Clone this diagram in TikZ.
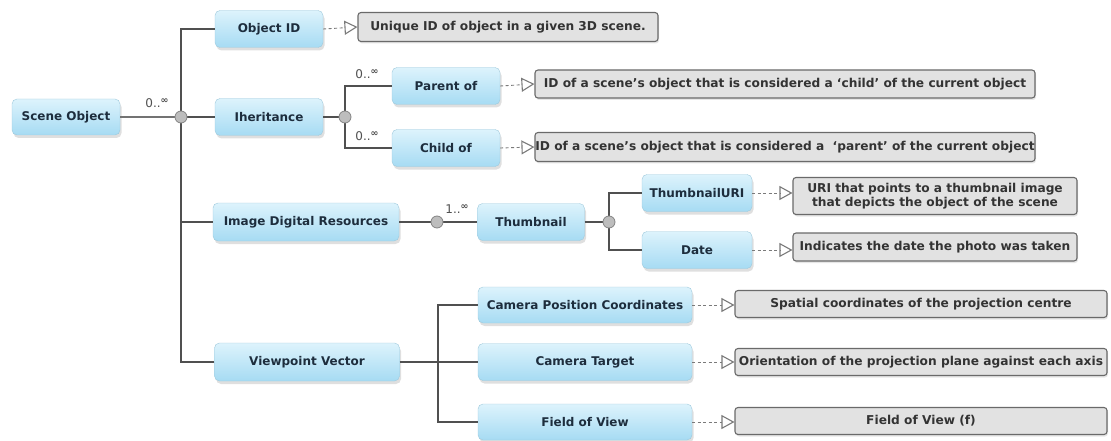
\documentclass[tikz,border=0pt]{standalone}
\usepackage{fontspec}
\setmainfont{DejaVu Sans}
\usetikzlibrary{arrows.meta,shadows,calc}
\definecolor{boxtop}{HTML}{DDF3FC}
\definecolor{boxbot}{HTML}{A6DBF3}
\definecolor{boxtext}{HTML}{1D2D3D}
\definecolor{notefill}{HTML}{E2E2E2}
\definecolor{noteline}{HTML}{6A6A6A}
\definecolor{treeline}{HTML}{505050}
\definecolor{dashline}{HTML}{7A7A7A}
\definecolor{joint}{HTML}{BDBDBD}
\tikzset{
  item/.style={rounded corners=5pt, top color=boxtop, bottom color=boxbot,
    draw=boxbot!80!gray, line width=0.4pt, text=boxtext,
    font=\fontsize{12}{13}\selectfont\bfseries, inner sep=0pt,
    drop shadow={shadow xshift=1.5pt, shadow yshift=-3pt, opacity=0.25, fill=gray}},
  note/.style={rounded corners=3pt, fill=notefill, draw=noteline, line width=1.1pt,
    text=black!80, font=\fontsize{12.2}{14}\selectfont\bfseries, inner sep=0pt, align=center,
    drop shadow={shadow xshift=1pt, shadow yshift=-2pt, opacity=0.2, fill=gray}},
  tree/.style={draw=treeline, line width=2pt},
  thin/.style={draw=treeline!80, line width=1.1pt},
  link/.style={draw=dashline, line width=0.9pt, dash pattern=on 3pt off 2.5pt,
    -{Triangle[open, length=13pt, width=14pt, line width=1.1pt]}},
  joint/.style={circle, fill=joint, draw=treeline!70, line width=0.8pt, minimum size=12pt, inner sep=0pt},
  mult/.style={text=treeline, font=\fontsize{12}{13}\selectfont, inner sep=0pt},
}
\newcommand{\mlt}[1]{#1..\raisebox{4pt}{\fontsize{9.5}{9.5}\selectfont\bfseries ∞}}
\begin{document}
\begin{tikzpicture}[x=1pt, y=-1pt]
\useasboundingbox (0,0) rectangle (1111,441);

% main items
\node[item, minimum width=108pt, minimum height=36pt] (so)  at (66,117)  {Scene Object};
\node[item, minimum width=108pt, minimum height=37pt] (oid) at (269,29)  {Object ID};
\node[item, minimum width=108pt, minimum height=37pt] (inh) at (269,117) {Iheritance};
\node[item, minimum width=186pt, minimum height=38pt] (idr) at (306,222) {Image Digital Resources};
\node[item, minimum width=185pt, minimum height=38pt] (vv)  at (307,362) {Viewpoint Vector};
\node[item, minimum width=108pt, minimum height=37pt] (par) at (446,86)  {Parent of};
\node[item, minimum width=108pt, minimum height=37pt] (chi) at (446,148) {Child of};
\node[item, minimum width=107pt, minimum height=37pt] (th)  at (531,222) {Thumbnail};
\node[item, minimum width=110pt, minimum height=37pt] (uri) at (697,193) {ThumbnailURI};
\node[item, minimum width=110pt, minimum height=37pt] (dt)  at (697,250) {Date};
\node[item, minimum width=214pt, minimum height=36pt] (cpc) at (585,305) {Camera Position Coordinates};
\node[item, minimum width=214pt, minimum height=37pt] (ct)  at (585,362) {Camera Target};
\node[item, minimum width=214pt, minimum height=36pt] (fov) at (585,422) {Field of View};

% descriptions
\node[note, minimum width=300pt, minimum height=29pt] (d1) at (508,27)  {Unique ID of object in a given 3D scene.};
\node[note, minimum width=500pt, minimum height=28pt] (d2) at (785,84)  {ID of a scene's object that is considered a `child' of the current object};
\node[note, minimum width=500pt, minimum height=29pt] (d3) at (785,147) {ID of a scene's object that is considered a ~`parent' of the current object};
\node[note, minimum width=284pt, minimum height=37pt] (d4) at (935,196) {URI that points to a thumbnail image\\that depicts the object of the scene};
\node[note, minimum width=284pt, minimum height=28pt] (d5) at (935,247) {Indicates the date the photo was taken};
\node[note, minimum width=372pt, minimum height=27pt] (d6) at (921,304) {Spatial coordinates of the projection centre};
\node[note, minimum width=372pt, minimum height=27pt] (d7) at (921,362) {Orientation of the projection plane against each axis};
\node[note, minimum width=372pt, minimum height=27pt] (d8) at (921,421) {Field of View (f)};

% junctions
\coordinate (c1) at (181,117);
\coordinate (c2) at (345,117);
\coordinate (c3) at (437,222);
\coordinate (c4) at (609,222);
\coordinate (c5) at (438,362);

% tree lines
\draw[thin] (so.east) -- (c1);
\draw[tree] (oid.west) -| (c1);
\draw[tree] (vv.west) -| (c1);
\draw[tree] (c1) -- (inh.west);
\draw[tree] (idr.west) -- (idr.west -| c1);
\draw[tree] (inh.east) -- (c2);
\draw[tree] (par.west) -| (c2);
\draw[tree] (chi.west) -| (c2);
\draw[tree] (idr.east) -- (c3) -- (th.west);
\draw[tree] (th.east) -- (c4);
\draw[tree] (uri.west) -| (c4);
\draw[tree] (dt.west) -| (c4);
\draw[tree] (vv.east) -- (c5) -- (ct.west);
\draw[tree] (cpc.west) -| (c5);
\draw[tree] (fov.west) -| (c5);

\node[joint] (j1) at (c1) {};
\node[joint] (j2) at (c2) {};
\node[joint] (j3) at (c3) {};
\node[joint] (j4) at (c4) {};

% multiplicities
\node[mult] (m1) at (157,103) {\mlt{0}};
\node[mult] (m2) at (367,74)  {\mlt{0}};
\node[mult] (m3) at (367,136) {\mlt{0}};
\node[mult] (m4) at (457,209) {\mlt{1}};

% descriptions links
\draw[link] (oid.east) -- (d1.west);
\draw[link] (par.east) -- (d2.west);
\draw[link] (chi.east) -- (d3.west);
\draw[link] (uri.east) -- (uri.east -| d4.west);
\draw[link] (dt.east) -- (dt.east -| d5.west);
\draw[link] (cpc.east) -- (cpc.east -| d6.west);
\draw[link] (ct.east) -- (ct.east -| d7.west);
\draw[link] (fov.east) -- (fov.east -| d8.west);
\end{tikzpicture}
\end{document}
